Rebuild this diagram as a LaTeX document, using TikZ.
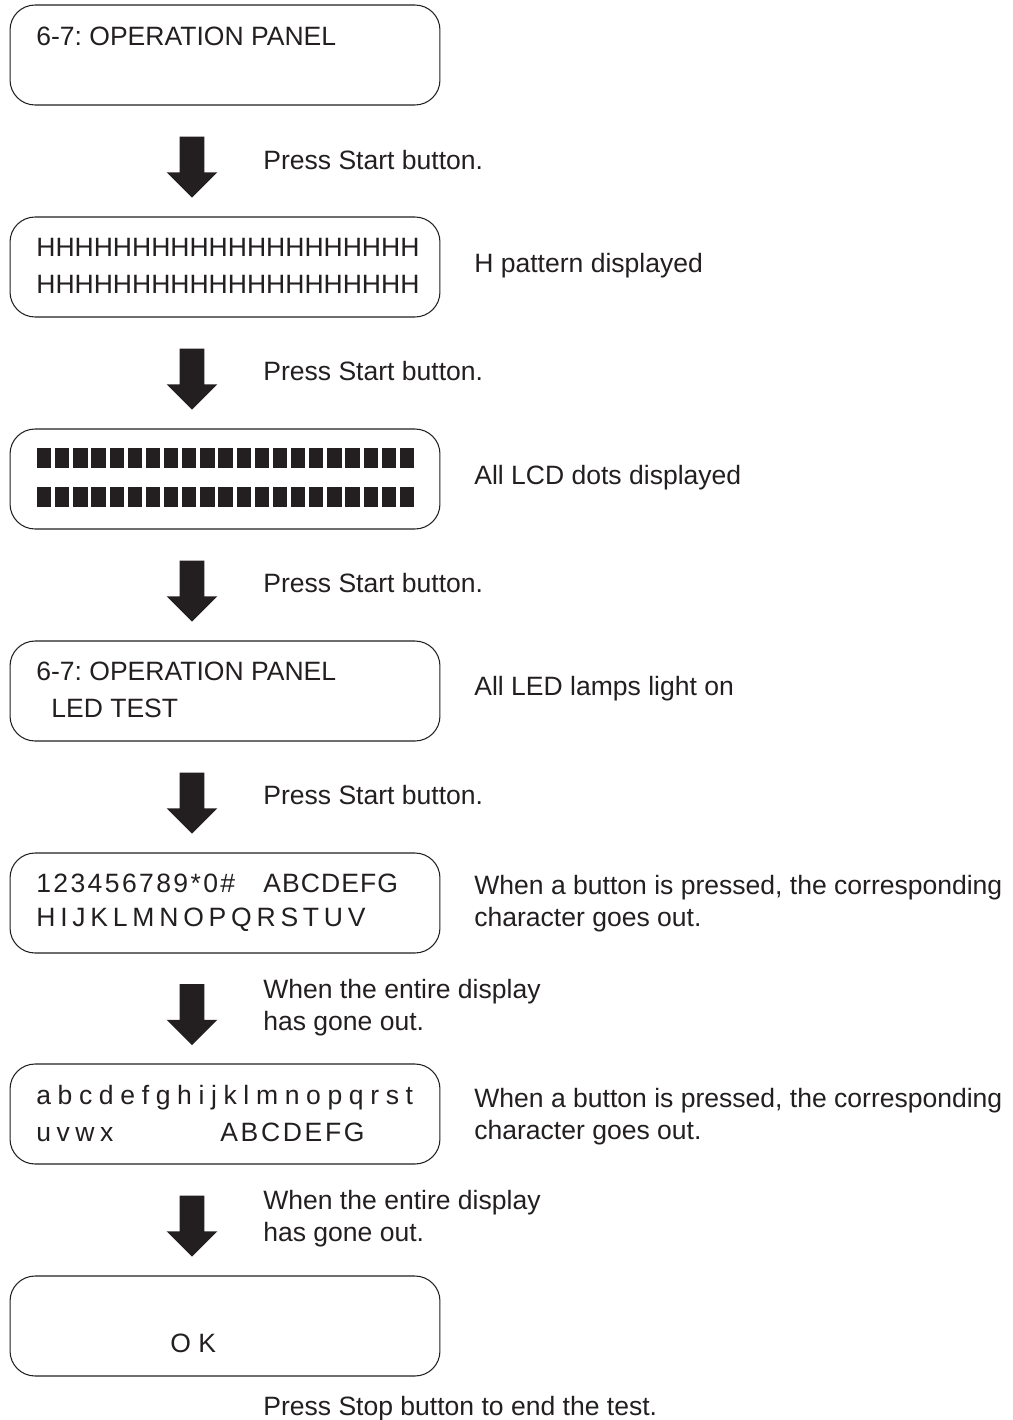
\documentclass[tikz,border=0pt]{standalone}
\usepackage{fontspec}
\setmainfont{Liberation Sans}
\usepackage{tikz}
\usetikzlibrary{shapes.arrows,calc}
\definecolor{InkGray}{HTML}{231F20}

\tikzset{
  panel/.style={draw=InkGray, line width=0.6pt, rounded corners=0.5cm,
    minimum width=8.6cm, minimum height=2cm},
  downarrow/.style={single arrow, draw=none, fill=InkGray, inner sep=0.24cm,
    minimum height=1.22cm, single arrow head extend=0.26cm,
    shape border rotate=270},
  txt/.style={anchor=base west, inner sep=0pt, text=InkGray, align=left,
    font=\fontsize{15.1}{18.2}\selectfont\frenchspacing},
  lcd/.style={txt, font=\fontsize{15.1}{18.2}\selectfont\addfontfeature{LetterSpace=#1}}
}

\begin{document}
\begin{tikzpicture}[x=0.02cm, y=-0.02cm]
  \useasboundingbox (0,0) rectangle (1013,1420);

  % Display panels
  \node[panel] (p1) at (225,55) {};
  \node[panel] (p2) at (225,267) {};
  \node[panel] (p3) at (225,479) {};
  \node[panel] (p4) at (225,691) {};
  \node[panel] (p5) at (225,903) {};
  \node[panel] (p6) at (225,1114) {};
  \node[panel] (p7) at (225,1326) {};

  % Arrows between panels
  \node[downarrow] (a1) at ([xshift=-0.66cm]$(p1.south)!0.5!(p2.north)$) {};
  \node[downarrow] (a2) at ([xshift=-0.66cm]$(p2.south)!0.5!(p3.north)$) {};
  \node[downarrow] (a3) at ([xshift=-0.66cm]$(p3.south)!0.5!(p4.north)$) {};
  \node[downarrow] (a4) at ([xshift=-0.66cm]$(p4.south)!0.5!(p5.north)$) {};
  \node[downarrow] (a5) at ([xshift=-0.66cm]$(p5.south)!0.5!(p6.north)$) {};
  \node[downarrow] (a6) at ([xshift=-0.66cm]$(p6.south)!0.5!(p7.north)$) {};

  % Panel contents (multi-line nodes sit on their last baseline)
  \node[txt] (d1) at (36,45) {6-7: OPERATION PANEL};
  \node[txt] (d2) at (36,293) {HHHHHHHHHHHHHHHHHHHH\\[2.3pt]HHHHHHHHHHHHHHHHHHHH};
  \foreach \i in {0,...,20} {
    \fill[InkGray] (37+\i*18.14,448) rectangle ++(14.3,20);
    \fill[InkGray] (37+\i*18.14,487) rectangle ++(14.3,20);
  }
  \node[txt] (d4a) at (36,680) {6-7: OPERATION PANEL};
  \node[txt] (d4b) at (51,717) {LED TEST};
  \node[lcd=9] (d5a) at (36,892) {123456789*0\#};
  \node[lcd=4] (d5b) at (263,892) {ABCDEFG};
  \node[lcd=18] (d5c) at (36,926) {HIJKLMNOPQRSTUV};
  \node[lcd=25] (d6a) at (36,1104) {abcdefghijklmnopqrst};
  \node[lcd=21] (d6b) at (36,1141) {uvwx};
  \node[lcd=10] (d6c) at (220,1141) {ABCDEFG};
  \node[txt] (d7) at (170,1352) {O K};

  % Step labels
  \node[txt] (s1) at (263,169) {Press Start button.};
  \node[txt] (s2) at (263,380) {Press Start button.};
  \node[txt] (s3) at (263,592) {Press Start button.};
  \node[txt] (s4) at (263,804) {Press Start button.};
  \node[txt] (s5) at (263,1030) {When the entire display\\has gone out.};
  \node[txt] (s6) at (263,1241) {When the entire display\\has gone out.};
  \node[txt] (s7) at (263,1415) {Press Stop button to end the test.};

  % Notes beside panels
  \node[txt] (n2) at (474,272) {H pattern displayed};
  \node[txt] (n3) at (474,484) {All LCD dots displayed};
  \node[txt] (n4) at (474,695) {All LED lamps light on};
  \node[txt] (n5) at (474,926) {When a button is pressed, the corresponding\\character goes out.};
  \node[txt] (n6) at (474,1139) {When a button is pressed, the corresponding\\character goes out.};
\end{tikzpicture}
\end{document}
